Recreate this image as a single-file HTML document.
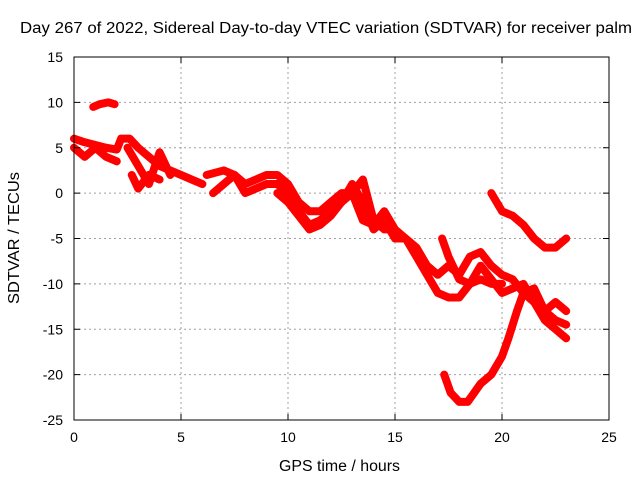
<!DOCTYPE html>
<html><head><meta charset="utf-8"><style>
body{margin:0;background:#fff}
svg{display:block;font-family:"Liberation Sans",sans-serif;font-size:14px}
</style></head><body>
<svg id="chart" width="640" height="480" viewBox="0 0 640 480">
<rect width="640" height="480" fill="#fff"/>
<g id="grid"></g><g id="series"></g><g id="axes"></g>
<text x="20" y="33" font-size="15.5" textLength="612" lengthAdjust="spacingAndGlyphs">Day 267 of 2022, Sidereal Day-to-day VTEC variation (SDTVAR) for receiver palm</text>
<text x="279" y="471" font-size="15.5" textLength="121" lengthAdjust="spacingAndGlyphs">GPS time / hours</text>
<text transform="translate(19,304) rotate(-90)" font-size="15.5" textLength="132" lengthAdjust="spacingAndGlyphs">SDTVAR / TECUs</text>
</svg>
<script>
const xTicks=[0,5,10,15,20,25];
const yTicks=[15,10,5,0,-5,-10,-15,-20,-25];
const trackA=[[0.9,9.5],[1.2,9.8],[1.6,10],[1.9,9.8]];
const trackB=[[0,6],[0.5,5.6],[1,5.3],[1.5,5],[2,4.8],[2.2,6],[2.6,6],[3,5],[3.5,4],[4,3],[4.5,2.5],[5,2],[5.5,1.5],[6,1]];
const trackC=[[0,5],[0.5,4],[1,5],[1.5,4],[2,3.5]];
const trackD=[[2.5,5],[3,3],[3.5,1],[4,4.5],[4.5,2]];
const trackE=[[2.7,2],[3,0.5],[3.5,2],[4,1.5]];
const trackF=[[6.2,2],[7,2.5],[7.5,2],[8,1],[8.5,1.5],[9,2],[9.5,2],[10,1],[10.5,-1],[11,-2],[11.5,-2],[12,-1],[12.5,0],[13,0],[13.5,1.5],[14,-3],[14.5,-4],[15,-4]];
const trackG=[[6.5,0],[7,1],[7.5,2],[8,0],[8.5,0.5],[9,1],[9.5,1],[10,0],[10.5,-2],[11,-3.5],[11.5,-3],[12,-2],[12.5,-1],[13,1],[13.5,-1],[14,-4],[14.5,-3],[15,-5],[15.5,-5],[16,-7],[16.5,-9],[17,-11],[17.5,-11.5],[18,-11.5],[18.5,-10],[19,-9.5],[19.5,-10],[20,-10]];
const trackH=[[9.5,0],[10,-1],[10.5,-2.5],[11,-4],[11.5,-3.5],[12,-2.5],[12.5,-1],[13,0],[13.5,-3],[14,-3.5],[14.5,-2],[15,-4],[15.5,-5],[16,-6],[16.5,-8],[17,-9],[17.5,-8],[18,-9],[18.5,-7],[19,-6.5],[19.5,-8],[20,-9],[20.5,-9.5],[21,-11],[21.5,-12],[22,-13],[22.5,-14],[23,-14.5]];
const trackI=[[17.2,-5],[17.5,-7],[18,-9.5],[18.5,-10],[19,-8],[19.5,-9.5],[20,-11],[20.5,-10.5],[21,-10],[21.5,-12],[22,-14],[22.5,-15],[23,-16]];
const trackJ=[[17.3,-20],[17.6,-22],[18,-23],[18.4,-23],[19,-21],[19.5,-20],[20,-18],[20.3,-16],[20.7,-13],[21,-11],[21.5,-10.5],[22,-13],[22.5,-12],[23,-13]];
const trackK=[[19.5,0],[20,-2],[20.5,-2.5],[21,-3.5],[21.5,-5],[22,-6],[22.5,-6],[23,-5]];
const tracks=[trackA,trackB,trackC,trackD,trackE,trackF,trackG,trackH,trackI,trackJ,trackK];
const X0=74,X1=609,Y0=57,Y1=420;
const sx=h=>X0+(h-0)/(25-0)*(X1-X0);
const sy=v=>Y0+(15-v)/(15-(-25))*(Y1-Y0);
const NS="http://www.w3.org/2000/svg";
const mk=(t,a,p)=>{const e=document.createElementNS(NS,t);for(const k in a)e.setAttribute(k,a[k]);p.appendChild(e);return e;};
const grid=document.getElementById('grid'),axes=document.getElementById('axes'),ser=document.getElementById('series');
xTicks.forEach(t=>{const x=sx(t);
 if(t>0&&t<25){const g=mk('line',{x1:x,x2:x,y1:Y0,y2:Y1,stroke:'#a0a0a0','stroke-dasharray':'2,3'},grid);
 
 }
 mk('line',{x1:x,x2:x,y1:Y1,y2:Y1-6,stroke:'#000'},axes);
 mk('line',{x1:x,x2:x,y1:Y0,y2:Y0+6,stroke:'#000'},axes);
 const l=mk('text',{x:x,y:Y1+22,'text-anchor':'middle'},axes);l.textContent=t;
 
 });
yTicks.forEach(t=>{const y=sy(t);
 if(t<15&&t>-25){const g=mk('line',{x1:X0,x2:X1,y1:y,y2:y,stroke:'#a0a0a0','stroke-dasharray':'2,3'},grid);
 
 }
 mk('line',{x1:X0,x2:X0+6,y1:y,y2:y,stroke:'#000'},axes);
 mk('line',{x1:X1,x2:X1-6,y1:y,y2:y,stroke:'#000'},axes);
 const l=mk('text',{x:X0-11,y:y+5,'text-anchor':'end'},axes);l.textContent=t;
 
 });
const fr=mk('rect',{x:X0,y:Y0,width:X1-X0,height:Y1-Y0,fill:'none',stroke:'#000'},axes);


tracks.forEach(tr=>{
 const p=mk('polyline',{points:tr.map(d=>sx(d[0])+','+sy(d[1])).join(' '),fill:'none',stroke:'#ff0000','stroke-width':8,'stroke-linejoin':'round','stroke-linecap':'round'},ser);
 
 
});
</script>
</body></html>
